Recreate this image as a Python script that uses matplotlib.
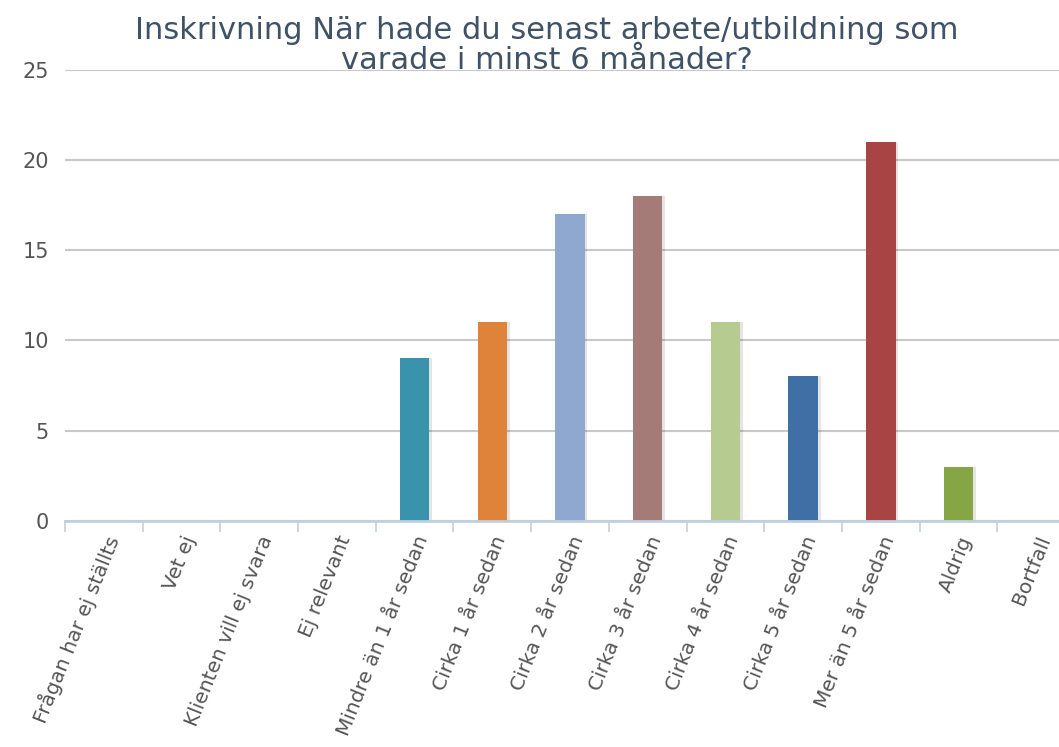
import numpy as np
import matplotlib.pyplot as plt

# data
categories = ['Frågan har ej ställts', 'Vet ej', 'Klienten vill ej svara', 'Ej relevant',
              'Mindre än 1 år sedan', 'Cirka 1 år sedan', 'Cirka 2 år sedan',
              'Cirka 3 år sedan', 'Cirka 4 år sedan', 'Cirka 5 år sedan',
              'Mer än 5 år sedan', 'Aldrig', 'Bortfall']
values = [0, 0, 0, 0, 9, 11, 17, 18, 11, 8, 21, 3, 0]
colors = ['#3a93ad', '#3a93ad', '#3a93ad', '#3a93ad', '#3a93ad', '#e0833a', '#8fa8d0',
          '#a57b78', '#b5cb8f', '#3f6fa5', '#a94444', '#86a646', '#86a646']
yticks = [0, 5, 10, 15, 20, 25]
title = 'Inskrivning När hade du senast arbete/utbildning som\nvarade i minst 6 månader?'

fig = plt.figure(figsize=(10.59, 7.47), dpi=100)
ax = fig.add_axes([0.0614, 0.303, 0.9537, 0.6034])

x = np.arange(len(categories))
bw = 0.38

# soft shadow to the right of each bar, then the bar
ax.bar(x + 0.035, values, width=bw, color='#000000', alpha=0.10, zorder=2)
ax.bar(x, values, width=bw, color=colors, zorder=3)

ax.set_xlim(-0.5, len(categories) - 0.5)
ax.set_ylim(0, 25)
ax.set_yticks(yticks)
ax.yaxis.grid(True, color='#c8c8c8', linewidth=1.5, zorder=0)
ax.set_axisbelow(True)

for s in ['top', 'right', 'left']:
    ax.spines[s].set_visible(False)
ax.spines['bottom'].set_color('#c0d0e0')
ax.spines['bottom'].set_linewidth(2)
ax.spines['bottom'].set_zorder(4)

# category boundary ticks
ax.set_xticks(np.arange(len(categories) + 1) - 0.5, minor=True)
ax.tick_params(axis='x', which='minor', length=8, width=1.2, color='#c0d0e0', direction='out')
ax.set_xticks(x)
ax.set_xticklabels(categories, rotation=68, ha='right', rotation_mode='anchor',
                   fontsize=14.5, color='#555555')
ax.tick_params(axis='x', which='major', length=0, pad=9)
ax.tick_params(axis='y', length=0, pad=11.5, labelsize=15, labelcolor='#555555')

fig.text(0.5165, 0.979, title, ha='center', va='top', fontsize=22,
         color='#3f5266', linespacing=1.05)

fig.savefig('out.png', dpi=100)
